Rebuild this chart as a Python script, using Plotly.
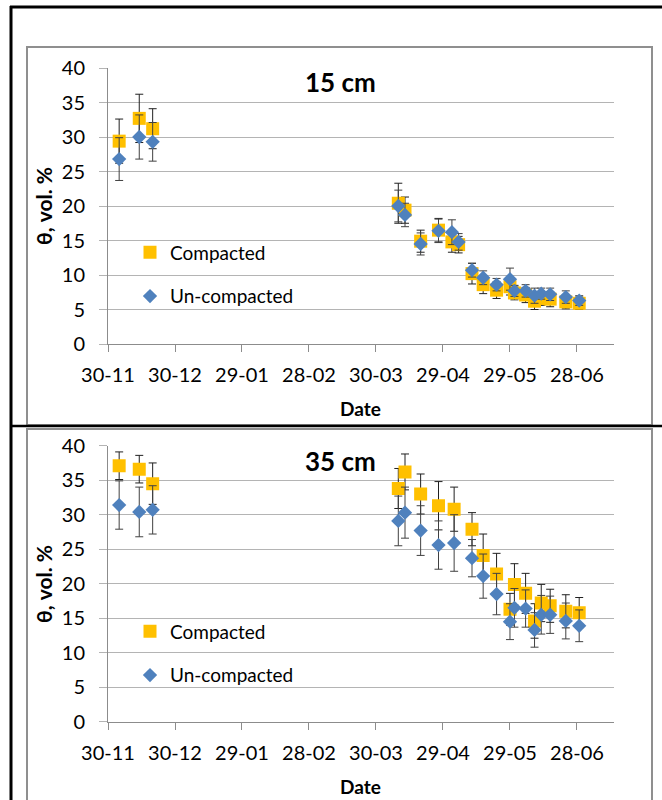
import plotly.graph_objects as go

# ---------------- data ----------------
tick_labels = ["30-11", "30-12", "29-01", "28-02", "30-03", "29-04", "29-05", "28-06"]

dates_15 = ["2010-12-05", "2010-12-14", "2010-12-20", "2011-04-09", "2011-04-12",
            "2011-04-19", "2011-04-27", "2011-05-03", "2011-05-06", "2011-05-12",
            "2011-05-17", "2011-05-23", "2011-05-29", "2011-05-31", "2011-06-05",
            "2011-06-09", "2011-06-12", "2011-06-16", "2011-06-23", "2011-06-29"]
comp_15 = [29.4, 32.7, 31.2, 20.4, 19.4, 14.9, 16.5, 14.8, 14.4, 10.2,
           8.6, 7.8, 8.3, 7.4, 7.1, 6.2, 6.6, 6.5, 6.1, 5.9]
comp_15_err = [3.2, 3.5, 2.9, 2.9, 1.9, 1.6, 1.7, 1.5, 1.2, 1.5,
               1.3, 1.2, 1.2, 1.0, 1.1, 1.2, 1.0, 1.1, 1.0, 0.9]
uncomp_15 = [26.8, 30.0, 29.3, 20.0, 18.7, 14.5, 16.4, 16.2, 14.8, 10.7,
             9.6, 8.6, 9.4, 7.7, 7.7, 7.0, 7.3, 7.2, 6.8, 6.3]
uncomp_15_err = [3.1, 3.2, 2.8, 2.3, 1.7, 1.6, 1.7, 1.8, 1.2, 1.0,
                 1.0, 0.9, 1.6, 0.8, 0.9, 1.1, 0.8, 0.9, 0.9, 0.7]

dates_35 = ["2010-12-05", "2010-12-14", "2010-12-20", "2011-04-09", "2011-04-12",
            "2011-04-19", "2011-04-27", "2011-05-04", "2011-05-12",
            "2011-05-17", "2011-05-23", "2011-05-29", "2011-05-31", "2011-06-05",
            "2011-06-09", "2011-06-12", "2011-06-16", "2011-06-23", "2011-06-29"]
comp_35 = [37.1, 36.6, 34.5, 33.8, 36.2, 33.0, 31.3, 30.8, 27.9,
           24.1, 21.4, 16.3, 19.9, 18.6, 14.6, 17.2, 16.8, 16.0, 15.8]
comp_35_err = [2.0, 2.0, 3.0, 2.9, 2.6, 2.9, 3.5, 3.2, 2.4,
               3.1, 3.0, 2.3, 3.0, 2.9, 2.5, 2.7, 2.4, 2.4, 2.2]
uncomp_35 = [31.4, 30.4, 30.7, 29.1, 30.3, 27.7, 25.6, 25.9, 23.7,
             21.1, 18.5, 14.5, 16.5, 16.4, 13.3, 15.5, 15.5, 14.6, 13.9]
uncomp_35_err = [3.5, 3.6, 3.5, 3.6, 3.7, 3.6, 3.5, 4.1, 2.7,
                 3.2, 3.0, 2.6, 2.8, 2.7, 2.5, 2.8, 2.7, 2.6, 2.3]

# ---------------- styling ----------------
W, H = 662, 800
FONT = "Lato"
GOLD = "#FFC000"
BLUE = "#4F81BD"
GRID = "#b4b4b4"
AXIS = "#8c8c8c"


def px(x):
    return x / W


def py(y):
    return 1 - y / H


fig = go.Figure()


def add_pair(dates, comp, comp_err, unc, unc_err, xa, ya, legend):
    fig.add_trace(go.Scatter(
        x=dates, y=comp, mode="markers", name="Compacted",
        xaxis=xa, yaxis=ya, legend=legend, legendgroup=legend + "c",
        marker=dict(symbol="square", size=13, color=GOLD),
        error_y=dict(type="data", array=comp_err, color="#202020", thickness=1, width=4),
    ))
    fig.add_trace(go.Scatter(
        x=dates, y=unc, mode="markers", name="Un-compacted",
        xaxis=xa, yaxis=ya, legend=legend, legendgroup=legend + "u",
        marker=dict(symbol="diamond", size=11, color=BLUE),
        error_y=dict(type="data", array=unc_err, color="#404040", thickness=1, width=4),
    ))


add_pair(dates_15, comp_15, comp_15_err, uncomp_15, uncomp_15_err, "x", "y", "legend")
add_pair(dates_35, comp_35, comp_35_err, uncomp_35, uncomp_35_err, "x2", "y2", "legend2")

x_range = ["2010-11-30", "2011-07-14 14:00"]
xaxis_common = dict(
    type="date", range=x_range, tick0="2010-11-30", dtick=30 * 86400000,
    tickformat="%d-%m", showgrid=False, showline=True, linecolor=AXIS, linewidth=1,
    ticks="outside", ticklen=7, tickcolor=AXIS, tickfont=dict(family=FONT, size=20, color="#000"),
    zeroline=False, fixedrange=True, automargin=False, ticklabelstandoff=6,
)
yaxis_common = dict(
    range=[0, 40], dtick=5, showgrid=True, gridcolor=GRID, gridwidth=1,
    showline=True, linecolor=AXIS, linewidth=1, ticks="outside", ticklen=8,
    tickcolor=GRID, tickfont=dict(family=FONT, size=20, color="#000"),
    zeroline=False, fixedrange=True, ticklabelstandoff=10, automargin=False,
)

legend_common = dict(
    x=px(130), xanchor="left", yanchor="middle", bgcolor="rgba(0,0,0,0)",
    font=dict(family=FONT, size=19, color="#000"), tracegroupgap=16,
    traceorder="grouped", itemsizing="trace",
)

fig.update_layout(
    width=W, height=H, autosize=False,
    margin=dict(l=0, r=0, t=0, b=0, pad=0, autoexpand=False),
    paper_bgcolor="white", plot_bgcolor="white",
    font=dict(family=FONT, color="#000"),
    showlegend=True,
    xaxis=dict(domain=[px(108), px(614)], anchor="y", **xaxis_common),
    yaxis=dict(domain=[py(344), py(68)], anchor="x", **yaxis_common),
    xaxis2=dict(domain=[px(108), px(614)], anchor="y2", **xaxis_common),
    yaxis2=dict(domain=[py(721.7), py(445.7)], anchor="x2", **yaxis_common),
    legend=dict(y=py(274.5), **legend_common),
    legend2=dict(y=py(653.5), **legend_common),
)

# axis titles and panel titles
annots = [
    dict(text="<b>15 cm</b>", x=px(340), y=py(82), size=26, angle=0),
    dict(text="<b>35 cm</b>", x=px(340), y=py(461), size=26, angle=0),
    dict(text="<b>Date</b>", x=px(361), y=py(408), size=19, angle=0),
    dict(text="<b>Date</b>", x=px(361), y=py(786), size=19, angle=0),
    dict(text="<b>θ, vol. %</b>", x=px(43), y=py(206), size=21, angle=-90),
    dict(text="<b>θ, vol. %</b>", x=px(43), y=py(584), size=21, angle=-90),
]
for a in annots:
    fig.add_annotation(text=a["text"], x=a["x"], y=a["y"], xref="paper", yref="paper",
                       showarrow=False, textangle=a["angle"], xanchor="center", yanchor="middle",
                       font=dict(family=FONT, size=a["size"], color="#000"))

# chart borders (gray) and outer frame (black)
fig.add_shape(type="rect", xref="paper", yref="paper", x0=px(27), x1=px(652), y0=py(425), y1=py(47),
              line=dict(color="#8f8f8f", width=2))
fig.add_shape(type="rect", xref="paper", yref="paper", x0=px(27), x1=px(652), y0=py(806), y1=py(429),
              line=dict(color="#8f8f8f", width=2))
for (x0, y0, x1, y1, w) in [(10, 7, 662, 7, 3), (11, 6, 11, 800, 3), (10, 426, 662, 426, 2.5)]:
    fig.add_shape(type="line", xref="paper", yref="paper", x0=px(x0), y0=py(y0), x1=px(x1), y1=py(y1),
                  line=dict(color="#000", width=w))

fig.write_html(
    "out.html",
    config={"displayModeBar": False},
    post_script="document.body.style.margin='0';document.body.style.overflow='hidden';",
)
